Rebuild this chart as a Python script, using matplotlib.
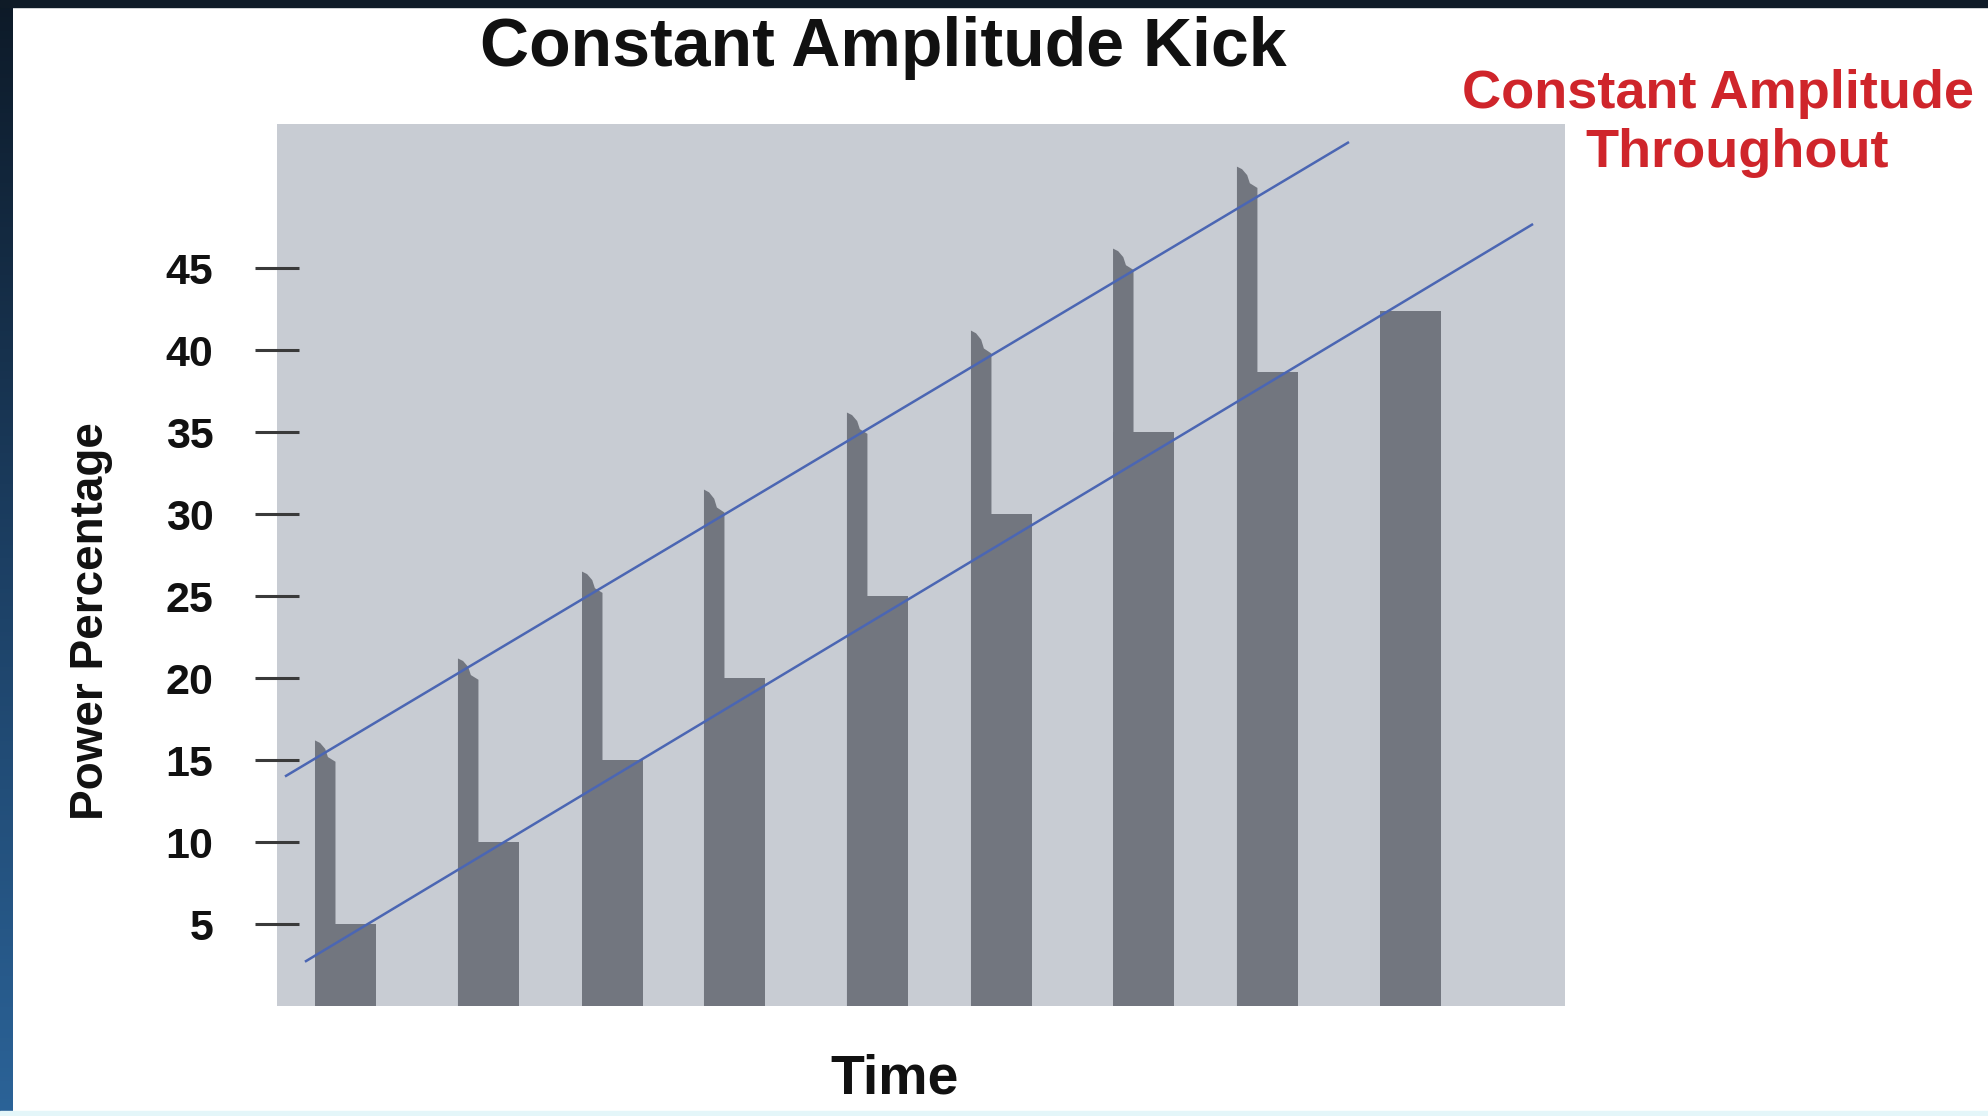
import numpy as np
import matplotlib.pyplot as plt
from matplotlib.colors import LinearSegmentedColormap

# pulse timing (left edge of each pulse, arbitrary time units 0-100)
pulse_start = [2.95, 14.05, 23.68, 33.15, 44.25, 53.88, 64.91, 74.53, 85.64]
# level held after each kick
hold_level = [5, 10, 15, 20, 25, 30, 35, 38.7, 42.4]
# tip of the kick and where it settles at the end of the kick
kick_peak = [16.2, 21.2, 26.5, 31.5, 36.2, 41.2, 46.2, 51.2]
kick_settle = [14.9, 19.9, 25.2, 30.1, 34.9, 39.8, 44.9, 49.9]
hold_width = 4.74
kick_width = 1.59

# guide lines: kick tips and hold levels
upper_x = [0.62, 83.23]
upper_y = [14.0, 52.7]
lower_x = [2.17, 97.52]
lower_y = [2.7, 47.7]

y_ticks = [5, 10, 15, 20, 25, 30, 35, 40, 45]

W, H = 1988, 1116
FONT = ['Liberation Sans', 'DejaVu Sans']
BAR = '#72767f'


def fx(px):
    return px / W


def fy(py):
    return 1 - py / H


fig = plt.figure(figsize=(W / 100, H / 100), dpi=100, facecolor='white')

# slide frame: dark top strip, blue gradient on the left, light strip at the bottom
fig.patches.append(plt.Rectangle((0, fy(7)), 1, 7 / H, transform=fig.transFigure,
                                 color='#0f1b27', zorder=0))
fig.patches.append(plt.Rectangle((0, 0), 1, 5 / H, transform=fig.transFigure,
                                 color='#e4f6f9', zorder=0))
side = fig.add_axes([0, 0, fx(13), 1])
grad = np.linspace(0, 1, 256).reshape(-1, 1)
cmap = LinearSegmentedColormap.from_list('side', ['#0d1a28', '#1c3f63', '#2b6398'])
side.imshow(grad, aspect='auto', cmap=cmap, extent=[0, 1, 0, 1])
side.axis('off')

ax = fig.add_axes([fx(277), fy(1006), (1565 - 277) / W, (1006 - 124) / H])
ax.set_facecolor('#c8ccd3')
for s in ax.spines.values():
    s.set_visible(False)

# held levels
ax.bar(pulse_start, hold_level, width=hold_width, align='edge', color=BAR, zorder=2)

# kicks: narrow spikes with a slightly chipped tip
for x0, pk, st in zip(pulse_start, kick_peak, kick_settle):
    w = kick_width
    drop = pk - st
    xs = [x0, x0, x0 + 0.25 * w, x0 + 0.5 * w, x0 + 0.63 * w, x0 + w, x0 + w]
    ys = [0, pk, pk - 0.12 * drop, pk - 0.4 * drop, pk - 0.78 * drop, st, 0]
    ax.fill(xs, ys, color=BAR, lw=0, zorder=2)

ax.plot(upper_x, upper_y, color='#4b66b3', lw=1.8, zorder=3, solid_capstyle='butt')
ax.plot(lower_x, lower_y, color='#4b66b3', lw=1.8, zorder=3, solid_capstyle='butt')

ax.set_xlim(0, 100)
ax.set_ylim(0, 53.8)
ax.set_xticks([])
ax.set_yticks(y_ticks)
ax.tick_params(axis='y', direction='inout', length=31.7, width=2.2, color='#3a3a3a',
               pad=30, labelsize=31, labelcolor='#111111')
for lbl in ax.get_yticklabels():
    lbl.set_fontfamily(FONT)
    lbl.set_fontweight('bold')

fig.text(fx(883), fy(66), 'Constant Amplitude Kick', ha='center', va='baseline',
         fontsize=49, fontweight='bold', family=FONT, color='#111111')
fig.text(fx(1718), fy(108), 'Constant Amplitude', ha='center', va='baseline',
         fontsize=39, fontweight='bold', family=FONT, color='#cf252b')
fig.text(fx(1737), fy(167), 'Throughout', ha='center', va='baseline',
         fontsize=39, fontweight='bold', family=FONT, color='#cf252b')
fig.text(fx(91), fy(621), 'Power Percentage', rotation=90, ha='center', va='center',
         fontsize=33, fontweight='bold', family=FONT, color='#111111')
fig.text(fx(895), fy(1093), 'Time', ha='center', va='baseline',
         fontsize=40, fontweight='bold', family=FONT, color='#111111')

fig.savefig('out.png', dpi=100)
